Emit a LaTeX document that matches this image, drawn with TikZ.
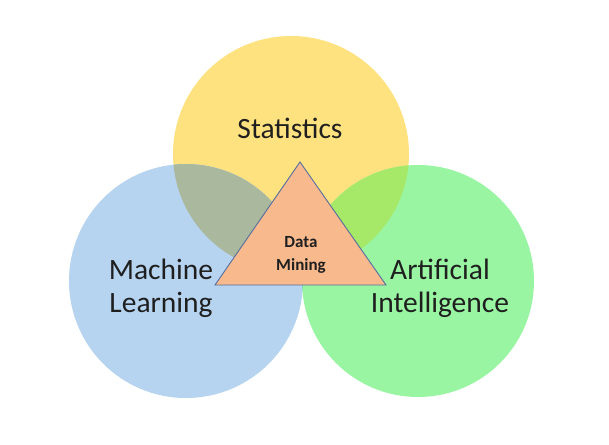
\documentclass[tikz,border=0pt]{standalone}
\usepackage{fontspec}
\setmainfont{Carlito}
\definecolor{statY}{RGB}{255,226,128}
\definecolor{mlB}{RGB}{182,212,240}
\definecolor{aiG}{RGB}{153,245,162}
\definecolor{ovYB}{RGB}{170,184,158}
\definecolor{ovYG}{RGB}{166,232,104}
\definecolor{ovBG}{RGB}{122,212,192}
\definecolor{dmFill}{RGB}{248,185,140}
\definecolor{dmEdge}{RGB}{84,110,160}
\begin{document}
\begin{tikzpicture}[x=1pt,y=-1pt,
  bigtext/.style={font=\fontsize{29.5}{33}\selectfont, align=center, anchor=base, inner sep=0pt, text=black!88},
  smalltext/.style={font=\fontsize{17}{23}\selectfont\bfseries, align=center, anchor=base, inner sep=0pt, text=black!88}]
\useasboundingbox (0,0) rectangle (609,444);
\fill[white] (0,0) rectangle (609,444);
% circles
\fill[statY] (291,154) circle (118);
\fill[mlB] (186,281) circle (117);
\fill[aiG] (418,281) circle (116);
% overlaps
\begin{scope}
  \clip (291,154) circle (118);
  \fill[ovYB] (186,281) circle (117);
  \fill[ovYG] (418,281) circle (116);
\end{scope}
\begin{scope}
  \clip (186,281) circle (117);
  \fill[ovBG] (418,281) circle (116);
\end{scope}
% triangle
\coordinate (apex) at (300,162);
\coordinate (bl) at (215,285);
\coordinate (br) at (386,285);
\filldraw[fill=dmFill, draw=dmEdge, line width=0.9pt, line join=miter] (apex) -- (bl) -- (br) -- cycle;
% labels
\node[bigtext] (stat) at (290,138) {Statistics};
\node[bigtext] (ml) at (161,312) {Machine\\Learning};
\node[bigtext] (ai) at (440,312) {Artificial\\Intelligence};
\node[smalltext] (dm) at (301,270) {Data\\Mining};
\end{tikzpicture}
\end{document}
